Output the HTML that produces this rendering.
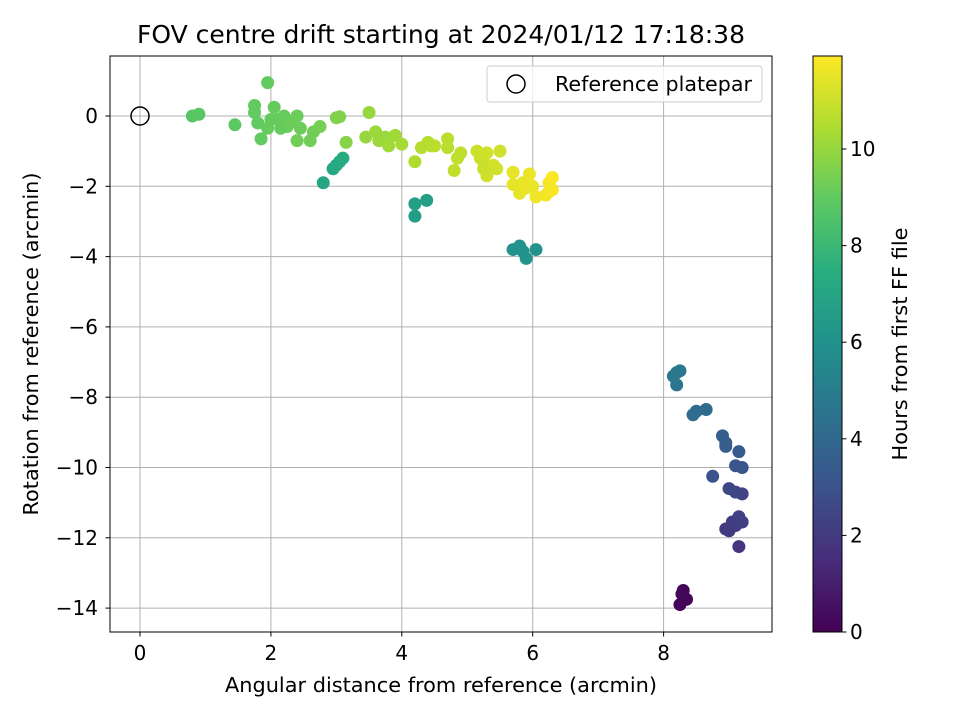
<!DOCTYPE html>
<html><head><meta charset="utf-8">
<style>
body{margin:0;background:#fff;}
svg text{font-family:"DejaVu Sans","Liberation Sans",sans-serif;fill:#000;}
</style></head>
<body>
<svg id="chart" width="960" height="720" xmlns="http://www.w3.org/2000/svg">
<defs>
<linearGradient id="vir" x1="0" y1="1" x2="0" y2="0">
<stop offset="0" stop-color="#440154"/><stop offset="0.125" stop-color="#472d7b"/>
<stop offset="0.25" stop-color="#3b528b"/><stop offset="0.375" stop-color="#2c728e"/>
<stop offset="0.5" stop-color="#21918c"/><stop offset="0.625" stop-color="#28ae80"/>
<stop offset="0.75" stop-color="#5ec962"/><stop offset="0.875" stop-color="#addc30"/>
<stop offset="1" stop-color="#fde725"/>
</linearGradient>
</defs>
<text x="441" y="43" style="font-size:24.5px" text-anchor="middle" textLength="608" lengthAdjust="spacingAndGlyphs">FOV centre drift starting at 2024/01/12 17:18:38</text>
<g id="grid"></g>
<g id="points"></g>
<rect x="110" y="56" width="662" height="576" fill="none" stroke="#000" stroke-width="1"/>
<g id="axes"></g>
<g>
<rect x="487" y="66" width="275" height="36" rx="3" fill="#fff" fill-opacity="0.8" stroke="#ccc"/>
<circle cx="516" cy="84" r="9" fill="none" stroke="#000" stroke-width="1.5"/>
<text x="555" y="91" style="font-size:20px" textLength="197" lengthAdjust="spacingAndGlyphs">Reference platepar</text>
</g>
<text x="441" y="692" style="font-size:20px" text-anchor="middle" textLength="432" lengthAdjust="spacingAndGlyphs">Angular distance from reference (arcmin)</text>
<text transform="translate(38,344) rotate(-90)" style="font-size:20px" text-anchor="middle" textLength="343" lengthAdjust="spacingAndGlyphs">Rotation from reference (arcmin)</text>
<rect x="813" y="56" width="29" height="576" fill="url(#vir)" stroke="#000" stroke-width="1"/>
<g id="cbticks"></g>
<text transform="translate(907,344) rotate(-90)" style="font-size:20px" text-anchor="middle" textLength="233" lengthAdjust="spacingAndGlyphs">Hours from first FF file</text>
</svg>
<script>
const xTicks=[0,2,4,6,8];
const yTicks=[0,-2,-4,-6,-8,-10,-12,-14];
const cTicks=[0,2,4,6,8,10];
const xs=[8.25,8.3,8.35,8.28,9.15,9.0,8.95,9.05,9.1,9.2,9.15,9.2,9.1,9.0,8.75,9.2,9.1,9.15,8.95,8.9,8.95,8.65,8.5,8.45,8.2,8.15,8.25,8.2,
5.7,5.8,5.9,6.05,5.85,4.2,4.2,4.38,2.8,2.95,3.0,3.05,3.1,
0.8,0.9,1.45,1.95,1.75,1.75,1.8,1.85,1.95,2.05,2.1,2.2,2.25,2.3,2.4,2.45,2.4,2.6,2.65,2.75,2.0,2.15,3.0,3.05,3.15,
3.5,3.45,3.6,3.65,3.75,3.8,3.9,4.0,4.2,4.3,4.4,4.45,4.5,4.7,4.7,4.8,4.85,4.9,
5.15,5.2,5.25,5.3,5.3,5.4,5.5,5.45,5.25,5.7,5.7,5.8,5.85,5.95,6.0,6.05,6.2,6.25,6.3,6.3,6.25,5.9];
const ys=[-13.9,-13.5,-13.75,-13.6,-12.25,-11.8,-11.75,-11.55,-11.65,-11.55,-11.4,-10.75,-10.7,-10.6,-10.25,-10.0,-9.95,-9.55,-9.4,-9.1,-9.3,-8.35,-8.4,-8.5,-7.65,-7.4,-7.25,-7.3,
-3.8,-3.7,-4.05,-3.8,-3.85,-2.85,-2.5,-2.4,-1.9,-1.5,-1.4,-1.3,-1.2,
0,0.05,-0.25,0.95,0.3,0.1,-0.2,-0.65,-0.35,0.25,-0.1,0,-0.3,-0.15,0,-0.35,-0.7,-0.7,-0.45,-0.3,-0.1,-0.35,-0.05,-0.02,-0.75,
0.1,-0.6,-0.45,-0.7,-0.6,-0.85,-0.55,-0.8,-1.3,-0.9,-0.75,-0.85,-0.85,-0.65,-0.9,-1.55,-1.2,-1.05,
-1.0,-1.2,-1.3,-1.05,-1.7,-1.4,-1.0,-1.5,-1.5,-1.6,-1.95,-2.2,-1.9,-1.65,-2.0,-2.3,-2.25,-1.9,-2.1,-1.75,-2.15,-2.05];
const hours=[0.1,0.2,0.15,0.2,1.8,2.0,2.0,2.1,2.1,2.2,2.3,2.4,2.5,2.5,3.0,3.1,3.2,3.4,3.5,3.6,3.5,4.1,4.2,4.2,4.6,4.7,4.8,4.7,
6.0,6.0,6.1,6.0,6.0,6.6,6.7,6.7,7.0,7.1,7.2,7.2,7.3,
8.8,8.8,8.9,9.0,9.0,9.0,9.0,9.0,9.1,9.1,9.1,9.1,9.2,9.2,9.2,9.2,9.3,9.3,9.3,9.4,9.1,9.1,9.6,9.6,9.7,
10.0,10.0,10.1,10.1,10.1,10.2,10.2,10.3,10.5,10.6,10.6,10.6,10.7,10.7,10.7,10.8,10.8,10.8,
11.0,11.0,11.0,11.1,11.1,11.1,11.1,11.1,11.0,11.5,11.5,11.5,11.5,11.6,11.6,11.7,11.7,11.8,11.8,11.9,11.8,11.6];
const X=v=>140+v*65.45, Y=v=>116-v*35.15, C=v=>632-v*48.3, HMAX=11.93;
const vir=[[68,1,84],[71,45,123],[59,82,139],[44,114,142],[33,145,140],[40,174,128],[94,201,98],[173,220,48],[253,231,37]];
function col(h){let t=Math.max(0,Math.min(1,h/HMAX))*8,i=Math.min(7,Math.floor(t)),f=t-i;
return 'rgb('+vir[i].map((c,k)=>Math.round(c+(vir[i+1][k]-c)*f)).join(',')+')';}
const ns='http://www.w3.org/2000/svg';
function mk(tag,attrs,parent){const e=document.createElementNS(ns,tag);for(const k in attrs)e.setAttribute(k,attrs[k]);document.getElementById(parent).appendChild(e);return e;}
xTicks.forEach(v=>{
const g=mk('line',{x1:X(v),x2:X(v),y1:56,y2:632,stroke:'#b0b0b0','stroke-width':1},'grid');


mk('line',{x1:X(v),x2:X(v),y1:632,y2:636.5,stroke:'#000'},'axes');
const t=mk('text',{x:X(v),y:660,style:'font-size:20px','text-anchor':'middle'},'axes');


t.textContent=String(v);});
yTicks.forEach(v=>{
const g=mk('line',{x1:110,x2:772,y1:Y(v),y2:Y(v),stroke:'#b0b0b0','stroke-width':1},'grid');


mk('line',{x1:105.5,x2:110,y1:Y(v),y2:Y(v),stroke:'#000'},'axes');
const t=mk('text',{x:98,y:Y(v)+7,style:'font-size:20px','text-anchor':'end'},'axes');


t.textContent=(v<0?'\u2212'+(-v):String(v));});
cTicks.forEach(v=>{
mk('line',{x1:842,x2:846.5,y1:C(v),y2:C(v),stroke:'#000'},'cbticks');
const t=mk('text',{x:850,y:C(v)+7,style:'font-size:20px'},'cbticks');


t.textContent=String(v);});
xs.forEach((x,i)=>{
const c=mk('circle',{cx:X(x),cy:Y(ys[i]),r:6.5,fill:col(hours[i])},'points');

});
const r=mk('circle',{cx:X(0),cy:Y(0),r:9,fill:'none',stroke:'#000','stroke-width':1.5},'points');


</script>
</body></html>
